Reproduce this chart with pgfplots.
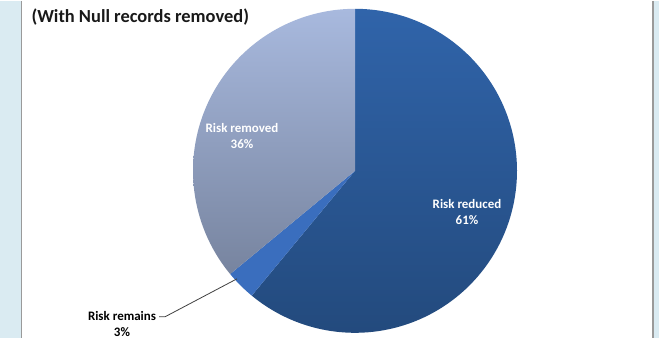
\documentclass[border=0pt]{standalone}
\usepackage{pgfplots}
\pgfplotsset{compat=1.18}
\usepackage{pgfplotstable}
\usepackage{fontspec}
\setmainfont{Carlito}
\definecolor{bgblue}{HTML}{DAEBF2}
\definecolor{framegray}{HTML}{9A9A9A}
\definecolor{redtop}{HTML}{3064AA}
\definecolor{redbot}{HTML}{234A7D}
\definecolor{remcol}{HTML}{3A6EBE}
\definecolor{remtop}{HTML}{A8B9DE}
\definecolor{rembot}{HTML}{77849F}
\pgfplotstableread{
label value
reduced 61
remains 3
removed 36
}\piedata
\begin{document}
\begin{tikzpicture}
\pgfplotstablegetelem{0}{value}\of\piedata \let\va\pgfplotsretval
\pgfplotstablegetelem{1}{value}\of\piedata \let\vb\pgfplotsretval
\pgfplotstablegetelem{2}{value}\of\piedata \let\vc\pgfplotsretval
\pgfmathsetmacro{\aA}{90}
\pgfmathsetmacro{\aB}{90-3.6*\va}
\pgfmathsetmacro{\aC}{\aB-3.6*\vb}
\pgfmathsetmacro{\aD}{\aC-3.6*\vc}
\begin{axis}[width=659bp,height=337bp,scale only axis,
  xmin=0,xmax=659,ymin=0,ymax=337,y dir=reverse,
  axis lines=none,clip=false,
  every axis plot/.append style={line width=0pt}]
\fill[bgblue] (axis cs:0,0) rectangle (axis cs:659,337);
\fill[white] (axis cs:21,0) rectangle (axis cs:653,337);
\draw[framegray,line width=1.6bp] (axis cs:21.5,0) -- (axis cs:21.5,337);
\draw[framegray,line width=1.6bp] (axis cs:653,0) -- (axis cs:653,337);
% slices
\addplot[draw=none,top color=redtop,bottom color=redbot,domain=\aA:\aB,samples=150,variable=\t]
  ({355+162*cos(\t)},{170-162*sin(\t)}) -- (axis cs:355,170) -- cycle;
\addplot[draw=none,fill=remcol,domain=\aB:\aC,samples=20,variable=\t]
  ({355+162*cos(\t)},{170-162*sin(\t)}) -- (axis cs:355,170) -- cycle;
\addplot[draw=none,top color=remtop,bottom color=rembot,domain=\aC:\aD,samples=120,variable=\t]
  ({355+162*cos(\t)},{170-162*sin(\t)}) -- (axis cs:355,170) -- cycle;
% title
\node[anchor=west,font=\fontsize{18.5}{20}\selectfont\bfseries,text=black!90] at (axis cs:28,16) {(With Null records removed)};
% labels
\node[align=center,font=\fontsize{13}{16}\selectfont\bfseries,text=white] at (axis cs:242,135) {Risk removed\\36\%};
\node[align=center,font=\fontsize{13}{16}\selectfont\bfseries,text=white] at (axis cs:467,211) {Risk reduced\\61\%};
\node[align=center,font=\fontsize{13}{16}\selectfont\bfseries,text=black] at (axis cs:122,323) {Risk remains\\3\%};
\draw[black!75,line width=0.8bp] (axis cs:159,316) -- (axis cs:165,316) -- (axis cs:237,278);
\end{axis}
\end{tikzpicture}
\end{document}
